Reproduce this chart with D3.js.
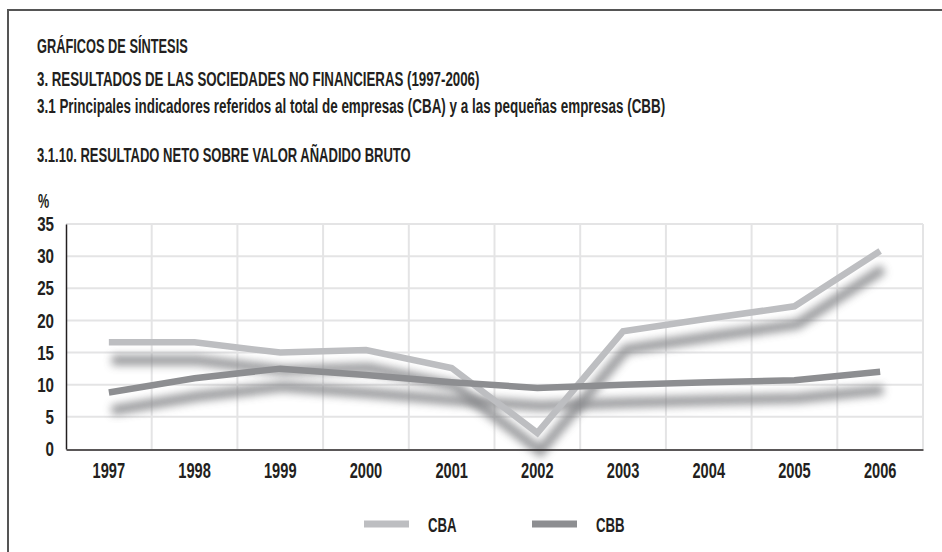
<!DOCTYPE html>
<html>
<head>
<meta charset="utf-8">
<script src="https://cdn.jsdelivr.net/npm/d3@7"></script>
<style>
  body { margin: 0; background: #fff; }
  svg text { font-family: "Liberation Sans", Arial, sans-serif; fill: #231f20; }
</style>
</head>
<body>
<svg id="chart"></svg>
<script>
// data
const years = ['1997', '1998', '1999', '2000', '2001', '2002', '2003', '2004', '2005', '2006'];
const cba = [16.6, 16.6, 15.0, 15.4, 12.6, 2.5, 18.3, 20.3, 22.2, 30.8];
const cbb = [8.8, 11.0, 12.5, 11.5, 10.4, 9.5, 10.0, 10.4, 10.7, 12.0];
const yTicks = [0, 5, 10, 15, 20, 25, 30, 35];
const titles = [
    'GRÁFICOS DE SÍNTESIS',
    '3. RESULTADOS DE LAS SOCIEDADES NO FINANCIERAS (1997-2006)',
    '3.1 Principales indicadores referidos al total de empresas (CBA) y a las pequeñas empresas (CBB)',
    '3.1.10. RESULTADO NETO SOBRE VALOR AÑADIDO BRUTO'
];
const seriesNames = ['CBA', 'CBB'];
const seriesColors = ['#bdbec1', '#8d8e91'];

const W = 942, H = 552;
const SX = 0.63; // condensed look of the original typeface
const svg = d3.select('#chart').attr('width', W).attr('height', H);

// filter for the soft drop shadow under each line
const defs = svg.append('defs');
const f = defs.append('filter').attr('id', 'blur')
    .attr('x', '-10%').attr('y', '-50%').attr('width', '120%').attr('height', '200%');
f.append('feGaussianBlur').attr('stdDeviation', 4);

// frame (top and left edge only)
svg.append('path')
    .attr('d', `M8,${H} V10 H${W}`)
    .attr('fill', 'none').attr('stroke', '#555').attr('stroke-width', 2);

// titles
const titleY = [53, 86, 113, 161.5];
const titleSX = [0.61, 0.633, 0.64, 0.62];
titles.forEach((t, i) => {
    svg.append('text')
        .attr('transform', `translate(37,${titleY[i]}) scale(${titleSX[i]},1)`)
        .attr('font-size', 21)
        .attr('font-weight', 'bold')
        .text(t);
});

svg.append('text')
    .attr('transform', `translate(38,208) scale(${SX},1)`)
    .attr('font-size', 20).attr('font-weight', 'bold')
    .text('%');

const x = d3.scaleBand().domain(years).range([66, 923]).padding(0);
const y = d3.scaleLinear().domain([0, 35]).range([449, 224]);
const cx = d => x(d) + x.bandwidth() / 2;

// grid
svg.append('g').selectAll('line')
    .data(yTicks.filter(v => v > 0))
    .join('line')
    .attr('x1', 66).attr('x2', 923)
    .attr('y1', d => y(d)).attr('y2', d => y(d))
    .attr('stroke', '#e4e4e5').attr('stroke-width', 2);

svg.append('g').selectAll('line')
    .data(years.slice(1).concat(['end']))
    .join('line')
    .attr('x1', d => d === 'end' ? 923 : x(d))
    .attr('x2', d => d === 'end' ? 923 : x(d))
    .attr('y1', y(35)).attr('y2', y(0))
    .attr('stroke', '#e4e4e5').attr('stroke-width', 2);

// lines with shadows
const line = d3.line()
    .x((d, i) => cx(years[i]))
    .y(d => y(d));

const series = [cba, cbb];

series.forEach(s => {
    svg.append('path')
        .datum(s)
        .attr('d', line)
        .attr('transform', 'translate(3,18)')
        .attr('fill', 'none')
        .attr('stroke', '#848588')
        .attr('stroke-width', 10)
        .attr('opacity', 0.85)
        .attr('filter', 'url(#blur)');
});

series.forEach((s, k) => {
    svg.append('path')
        .datum(s)
        .attr('d', line)
        .attr('fill', 'none')
        .attr('stroke', seriesColors[k])
        .attr('stroke-width', 6.5)
        .attr('stroke-linejoin', 'miter');
});

// axes
const yAxis = svg.append('g')
    .attr('transform', 'translate(66,0)')
    .call(d3.axisLeft(y).tickValues(yTicks).tickSize(0).tickPadding(0));
yAxis.select('.domain').attr('stroke', '#231f20').attr('stroke-width', 1.5);
yAxis.selectAll('text')
    .attr('x', null)
    .attr('transform', `translate(-12,0) scale(0.74,1)`)
    .attr('font-size', 20.5).attr('font-weight', 'bold')
    .attr('font-family', '"Liberation Sans", sans-serif').attr('fill', '#231f20');

const xAxis = svg.append('g')
    .attr('transform', 'translate(0,449.5)')
    .call(d3.axisBottom(x).tickSize(0).tickPadding(13));
xAxis.select('.domain').attr('stroke', '#231f20').attr('stroke-width', 1.5);
xAxis.selectAll('text')
    .attr('transform', 'scale(0.68,1)')
    .attr('font-size', 21.5).attr('font-weight', 'bold')
    .attr('font-family', '"Liberation Sans", sans-serif').attr('fill', '#231f20');

// legend
const legendX = [364, 532];
seriesNames.forEach((n, k) => {
    const g = svg.append('g').attr('transform', `translate(${legendX[k]},524)`);
    g.append('line')
        .attr('x1', 0).attr('x2', 45)
        .attr('stroke', seriesColors[k]).attr('stroke-width', 7);
    g.append('text')
        .attr('transform', `translate(64,8) scale(${SX},1)`)
        .attr('font-size', 21).attr('font-weight', 'bold')
        .text(n);
});
</script>
</body>
</html>
